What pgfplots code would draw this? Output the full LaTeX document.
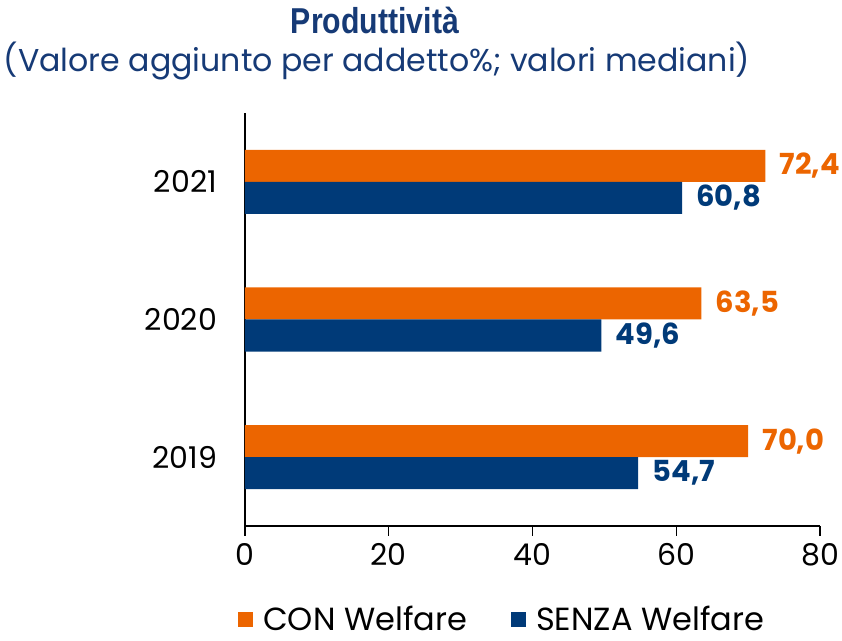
\documentclass[border=0pt]{standalone}
\usepackage{fontspec}
\setmainfont{Poppins}
\newfontfamily\titlefont[FakeStretch=0.84]{Liberation Sans}
\usepackage{pgfplots}
\pgfplotsset{compat=1.18}
\definecolor{arancio}{RGB}{236,101,0}
\definecolor{blu}{RGB}{0,58,120}
\definecolor{titolo}{RGB}{22,58,118}

\begin{document}
\begin{tikzpicture}
\begin{axis}[
    at={(0,0)}, anchor=south west,
    scale only axis,
    width=287.5pt, height=206.5pt,
    xbar, bar width=0.233,
    xmin=0, xmax=80, ymin=-0.5, ymax=2.5,
    xtick={0,20,40,60,80},
    ytick={0,1,2},
    yticklabels={2019,2020,2021},
    axis lines=left,
    axis line style={-, line width=0.6pt, black},
    major tick length=5pt,
    xtick align=outside,
    ytick style={draw=none},
    xtick style={black, line width=0.6pt},
    /pgf/number format/assume math mode=true,
    ticklabel style={font=\fontsize{15}{18}\selectfont},
    yticklabel style={xshift=-8pt},
    legend style={at={(0.449,-0.226)}, anchor=center, draw=none,
        legend columns=2, font=\fontsize{16}{18}\selectfont,
        /tikz/every odd column/.append style={column sep=3pt},
        /tikz/every even column/.append style={column sep=20pt}},
    legend image code/.code={\fill[#1] (0pt,-3.75pt) rectangle (7.5pt,3.75pt);},
    point meta=x,
    nodes near coords={\pgfmathprintnumber[fixed,fixed zerofill,precision=1,use comma,assume math mode=true]{\pgfplotspointmeta}},
]
\addplot[fill=arancio, draw=none, bar shift=0.1165,
    nodes near coords style={font=\bfseries\fontsize{14.5}{16}\selectfont, text=arancio, anchor=west, inner sep=7pt}]
    coordinates {(70.0,0) (63.5,1) (72.4,2)};
\addlegendentry{CON Welfare}
\addplot[fill=blu, draw=none, bar shift=-0.1165,
    nodes near coords style={font=\bfseries\fontsize{14.5}{16}\selectfont, text=blu, anchor=west, inner sep=7pt}]
    coordinates {(54.7,0) (49.6,1) (60.8,2)};
\addlegendentry{SENZA Welfare}
\end{axis}
\node[font=\titlefont\bfseries\fontsize{18}{20}\selectfont, text=titolo, anchor=base] at (65pt,246pt) {Produttività};
\node[font=\fontsize{15.8}{18}\selectfont, text=titolo, anchor=base] at (66pt,227pt) {(Valore aggiunto per addetto\%; valori mediani)};
\pgfresetboundingbox
\useasboundingbox (-122.5pt,-57.5pt) rectangle (298.5pt,263pt);
\end{tikzpicture}
\end{document}
